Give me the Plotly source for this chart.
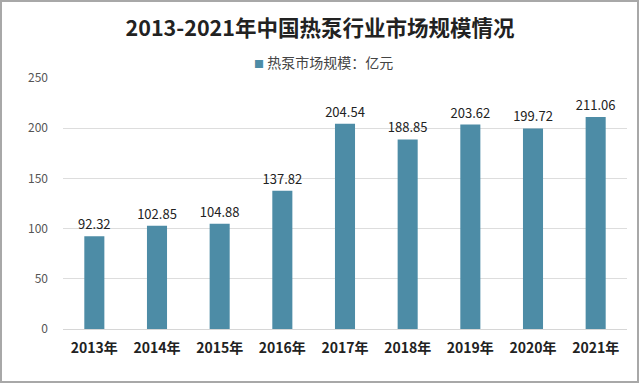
import plotly.graph_objects as go

years = ["2013年", "2014年", "2015年", "2016年", "2017年", "2018年", "2019年", "2020年", "2021年"]
values = [92.32, 102.85, 104.88, 137.82, 204.54, 188.85, 203.62, 199.72, 211.06]
y_ticks = [0, 50, 100, 150, 200, 250]
series_name = "热泵市场规模：亿元"
title = "2013-2021年中国热泵行业市场规模情况"

font_cjk = "Noto Sans CJK SC, Noto Sans, sans-serif"
bar_color = "#4d8ca6"

fig = go.Figure(go.Bar(
    x=years, y=values, name=series_name,
    marker=dict(color=bar_color, line=dict(width=0)),
    text=[f"{v:.2f}" for v in values], textposition="outside",
    textfont=dict(size=13, color="#222222", family=font_cjk),
    cliponaxis=False,
    showlegend=False,
))

fig.update_layout(
    width=640, height=384,
    margin=dict(l=63, r=13, t=78, b=55, autoexpand=False),
    paper_bgcolor="#ffffff", plot_bgcolor="#ffffff",
    bargap=0.68,
    uniformtext=dict(mode="show", minsize=13),
    title=dict(text="<b>" + title + "</b>", x=0.5, xanchor="center", y=0.927, yanchor="middle",
               font=dict(size=21.5, color="#222222", family=font_cjk)),
    annotations=[dict(
        text=f"<span style='color:{bar_color};font-size:10px'>■</span> " + series_name,
        xref="paper", yref="paper", x=(323 - 63) / 564, xanchor="center", y=1 + 16 / 251, yanchor="middle",
        showarrow=False, font=dict(size=14, color="#444444", family=font_cjk))],
    yaxis=dict(range=[0, 250], tickvals=y_ticks, showgrid=True, gridcolor="#dddddd", gridwidth=1,
               zeroline=False, showline=False, ticks="", ticklabelstandoff=14,
               tickfont=dict(size=12, color="#555555", family=font_cjk)),
    xaxis=dict(showline=True, linecolor="#d6d6d6", linewidth=1, ticks="",
               tickfont=dict(size=14, color="#222222", family=font_cjk),
               ticklabelstandoff=6),
    shapes=[dict(type="rect", xref="paper", yref="paper", x0=-62/564, x1=1+11/564, y0=-53/251, y1=1+77/251,
                 line=dict(color="#a8a8a8", width=2), fillcolor="rgba(0,0,0,0)", layer="below")],
)
fig.for_each_xaxis(lambda a: a.update(tickvals=years, ticktext=["<b>" + y + "</b>" for y in years]))

fig.write_html("out.html", config={"displayModeBar": False},
               post_script="document.body.style.margin='0px';")
